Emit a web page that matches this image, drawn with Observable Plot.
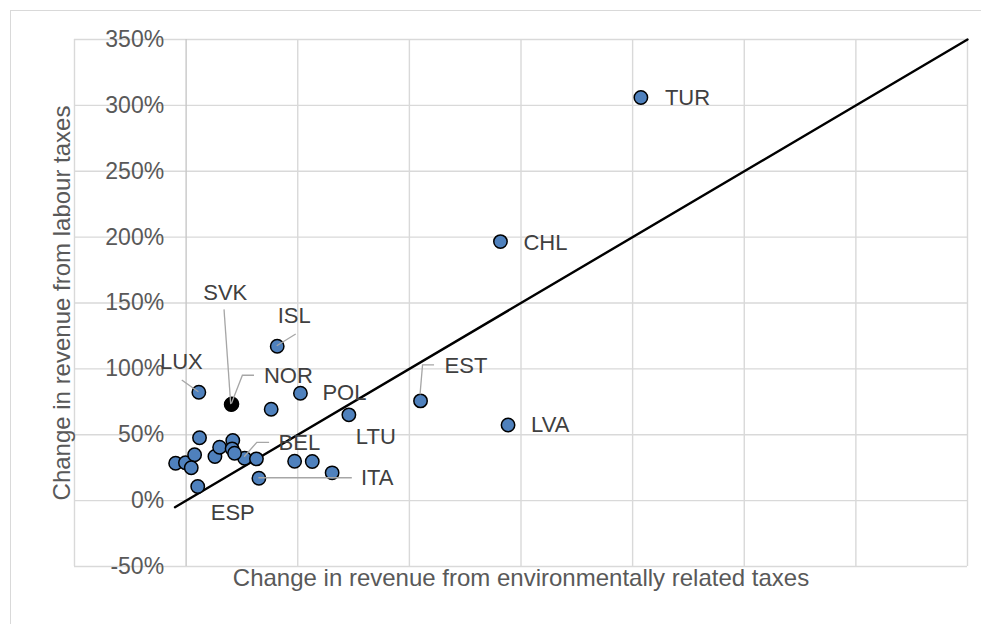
<!DOCTYPE html>
<html><head><meta charset="utf-8">
<script src="https://cdn.jsdelivr.net/npm/d3@7"></script>
<script src="https://cdn.jsdelivr.net/npm/@observablehq/plot@0.6"></script>
<style>
html,body{margin:0;padding:0;background:#fff;}
#wrap{position:relative;width:981px;height:624px;overflow:hidden;}
#frame{position:absolute;left:10px;top:10px;width:1000px;height:700px;border:1px solid #d9d9d9;box-sizing:border-box;}
#chart{position:absolute;left:0;top:0;}
</style></head><body>
<div id="wrap"><div id="frame"></div><div id="chart"></div></div>
<script>
// ---- data ----
const countries = ["TUR","CHL","EST","LVA","LTU","POL","ISL","NOR","SVK","LUX","BEL","ITA","ESP",
  "","","","","","","","","","","","","","",""];
const envTaxChange = [203.7,140.8,105.0,144.2,72.9,51.2,40.8,20.5,20.2,5.7,26.2,32.6,5.2,
  38.1,6.0,-4.7,-0.3,3.8,2.3,12.9,15.0,20.9,20.6,21.7,31.5,48.6,56.5,65.4];
const labourTaxChange = [306.0,196.6,75.7,57.4,65.1,81.5,117.2,73.3,72.9,82.3,32.2,17.0,10.7,
  69.3,47.7,28.4,28.7,34.8,24.9,33.5,40.5,45.6,39.3,36.0,31.7,29.9,29.7,21.1];
const highlighted = ["SVK"];
const yTicks = [-50,0,50,100,150,200,250,300,350];
const yTickLabels = ["-50%","0%","50%","100%","150%","200%","250%","300%","350%"];
const xGrid = [-50,0,50,100,150,200,250,300,350];
const parityLine = [-5, 350];
const xTitle = "Change in revenue from environmentally related taxes";
const yTitle = "Change in revenue from labour taxes";

// ---- label layout (pixel offsets from each point) ----
const labelLayout = {
  TUR:{dx:24,dy:0,anchor:"start"},
  CHL:{dx:23,dy:1,anchor:"start"},
  LVA:{dx:23,dy:0,anchor:"start"},
  EST:{dx:24,dy:-35,anchor:"start",leader:[[0,-6],[2.5,-35.5],[14,-35.5]]},
  LTU:{dx:7,dy:22,anchor:"start"},
  POL:{dx:22,dy:0,anchor:"start"},
  ISL:{dx:17,dy:-30,anchor:"middle",leader:[[0,0],[19,-11.7]]},
  SVK:{dx:-6,dy:-112,anchor:"middle",leader:[[0,0],[-6.7,-94.7]]},
  NOR:{dx:32,dy:-28,anchor:"start",leader:[[0,0],[11,-28.3],[22.6,-28.3]]},
  LUX:{dx:-17.5,dy:-30,anchor:"middle",leader:[[0,0],[-16.6,-11.7]]},
  BEL:{dx:34,dy:-15,anchor:"start",leader:[[0,-1],[12.7,-15.4],[25,-15.4]]},
  ITA:{dx:102,dy:0,anchor:"start",leader:[[0,0],[93.4,0]]},
  ESP:{dx:35,dy:26,anchor:"middle"}
};

const data = countries.map((c,i)=>({code:c, env:envTaxChange[i], labour:labourTaxChange[i]}));
const labelled = data.filter(d => d.code !== "");
const normal = data.filter(d => !highlighted.includes(d.code));
const special = data.filter(d => highlighted.includes(d.code));
const ticks = yTicks.map((v,i)=>({v, label:yTickLabels[i]}));
const lineData = parityLine.map(v=>({x:v,y:v}));

const font = "'Liberation Sans', Arial, sans-serif";

const leaders = (index, scales) => {
  const g = d3.create("svg:g").attr("fill","none").attr("stroke","#a6a6a6").attr("stroke-width",1.3);
  for (const d of labelled) {
    const L = labelLayout[d.code];
    if (!L || !L.leader) continue;
    const px = scales.x(d.env), py = scales.y(d.labour);
    g.append("polyline").attr("points", L.leader.map(([ox,oy]) => `${px+ox},${py+oy}`).join(" "));
  }
  return g.node();
};

const labelMarks = labelled.map(d => {
  const L = labelLayout[d.code];
  return Plot.text([d], {x:"env", y:"labour", text:"code", dx:L.dx, dy:L.dy, textAnchor:L.anchor,
    fontSize:22, fill:"#404040"});
});

const chart = Plot.plot({
  width: 981, height: 624,
  marginLeft: 74, marginRight: 14, marginTop: 39, marginBottom: 58,
  x: {domain: [-50, 350], axis: null},
  y: {domain: [-50, 350], axis: null},
  style: {fontFamily: font, background: "transparent", overflow: "visible"},
  marks: [
    Plot.ruleY(yTicks, {stroke: "#d9d9d9", strokeWidth: 1.4}),
    Plot.ruleX(xGrid.filter(v => v !== 0), {stroke: "#d9d9d9", strokeWidth: 1.4}),
    Plot.ruleX(xGrid.filter(v => v === 0), {stroke: "#c8c8c8", strokeWidth: 1.4}),
    Plot.text(ticks, {x: () => 0, y: "v", text: "label", textAnchor: "end", dx: -22, fontSize: 23, fill: "#595959"}),
    Plot.line(lineData, {x: "x", y: "y", stroke: "black", strokeWidth: 2.4}),
    Plot.dot(normal, {x: "env", y: "labour", r: 6.7, fill: "#4f81bd", stroke: "black", strokeWidth: 1.5}),
    Plot.dot(special, {x: "env", y: "labour", r: 6.7, fill: "black", stroke: "black", strokeWidth: 1.5}),
    leaders,
    ...labelMarks,
    Plot.text([yTitle], {text: d => d, frameAnchor: "left", dx: -12, rotate: -90, textAnchor: "middle", fontSize: 24, fill: "#595959"}),
    Plot.text([xTitle], {text: d => d, frameAnchor: "bottom", dy: 19, textAnchor: "middle", fontSize: 24, fill: "#595959"})
  ]
});
document.getElementById("chart").appendChild(chart);
</script>
</body></html>
